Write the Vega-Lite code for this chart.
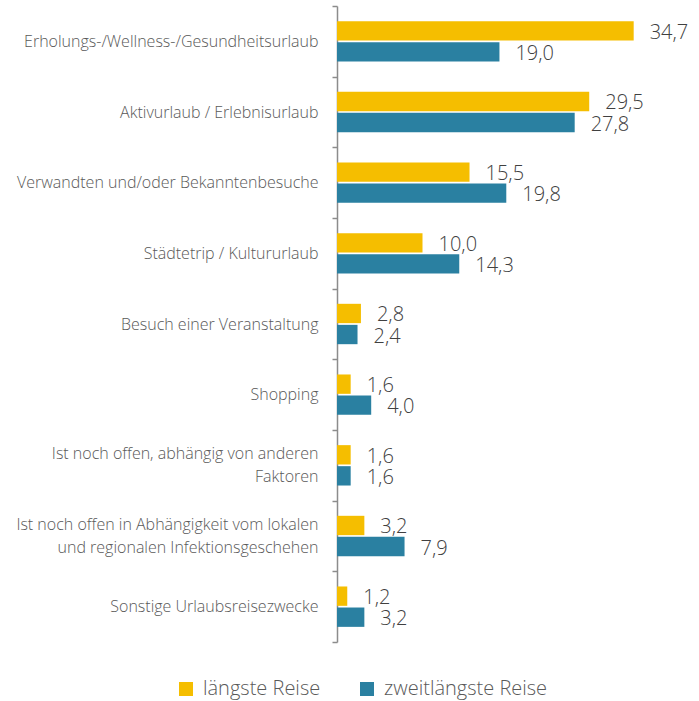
{
  "$schema": "https://vega.github.io/schema/vega-lite/v6.json",
  "width": 342,
  "height": 636,
  "autosize": {"type": "none"},
  "padding": {"left": 337, "top": 6, "right": 20, "bottom": 59},
  "config": {
    "font": "Open Sans",
    "view": {"stroke": null},
    "locale": {"number": {"decimal": ",", "thousands": ".", "grouping": [3], "currency": ["", " €"]}}
  },
  "data": {
    "values": [
      {"zweck": "Erholungs-/Wellness-/Gesundheitsurlaub", "reise": "längste Reise", "wert": 34.7},
      {"zweck": "Erholungs-/Wellness-/Gesundheitsurlaub", "reise": "zweitlängste Reise", "wert": 19.0},
      {"zweck": "Aktivurlaub / Erlebnisurlaub", "reise": "längste Reise", "wert": 29.5},
      {"zweck": "Aktivurlaub / Erlebnisurlaub", "reise": "zweitlängste Reise", "wert": 27.8},
      {"zweck": "Verwandten und/oder Bekanntenbesuche", "reise": "längste Reise", "wert": 15.5},
      {"zweck": "Verwandten und/oder Bekanntenbesuche", "reise": "zweitlängste Reise", "wert": 19.8},
      {"zweck": "Städtetrip / Kultururlaub", "reise": "längste Reise", "wert": 10.0},
      {"zweck": "Städtetrip / Kultururlaub", "reise": "zweitlängste Reise", "wert": 14.3},
      {"zweck": "Besuch einer Veranstaltung", "reise": "längste Reise", "wert": 2.8},
      {"zweck": "Besuch einer Veranstaltung", "reise": "zweitlängste Reise", "wert": 2.4},
      {"zweck": "Shopping", "reise": "längste Reise", "wert": 1.6},
      {"zweck": "Shopping", "reise": "zweitlängste Reise", "wert": 4.0},
      {"zweck": "Ist noch offen, abhängig von anderen|Faktoren", "reise": "längste Reise", "wert": 1.6},
      {"zweck": "Ist noch offen, abhängig von anderen|Faktoren", "reise": "zweitlängste Reise", "wert": 1.6},
      {"zweck": "Ist noch offen in Abhängigkeit vom lokalen|und regionalen Infektionsgeschehen", "reise": "längste Reise", "wert": 3.2},
      {"zweck": "Ist noch offen in Abhängigkeit vom lokalen|und regionalen Infektionsgeschehen", "reise": "zweitlängste Reise", "wert": 7.9},
      {"zweck": "Sonstige Urlaubsreisezwecke", "reise": "längste Reise", "wert": 1.2},
      {"zweck": "Sonstige Urlaubsreisezwecke", "reise": "zweitlängste Reise", "wert": 3.2}
    ]
  },
  "encoding": {
    "y": {
      "field": "zweck",
      "type": "nominal",
      "sort": null,
      "scale": {"paddingInner": 0, "paddingOuter": 0},
      "axis": {
        "title": null,
        "labelExpr": "split(datum.label, '|')",
        "labelFontSize": 16,
        "labelColor": "#595959",
        "labelFont": "Open Sans",
        "labelFontWeight": 300,
        "labelLineHeight": 23,
        "labelOffset": {"condition": {"test": "indexof(datum.label, '|') >= 0", "value": -12}, "value": 0},
        "labelPadding": 14,
        "labelLimit": 400,
        "tickBand": "extent",
        "tickSize": 5,
        "tickColor": "#8c8c8c",
        "tickWidth": 1.5,
        "domainColor": "#8c8c8c",
        "domainWidth": 1.5,
        "grid": false
      }
    },
    "yOffset": {
      "field": "reise",
      "type": "nominal",
      "sort": ["längste Reise", "zweitlängste Reise"],
      "scale": {"paddingInner": 0.08, "paddingOuter": 0.72}
    },
    "x": {
      "field": "wert",
      "type": "quantitative",
      "scale": {"domain": [0, 40]},
      "axis": null
    }
  },
  "layer": [
    {
      "mark": {"type": "bar"},
      "encoding": {
        "color": {
          "field": "reise",
          "type": "nominal",
          "sort": ["längste Reise", "zweitlängste Reise"],
          "scale": {"domain": ["längste Reise", "zweitlängste Reise"], "range": ["#F5BE00", "#2A80A1"]},
          "legend": {
            "title": null,
            "orient": "none",
            "direction": "horizontal",
            "legendX": -161,
            "legendY": 673,
            "symbolType": "square",
            "symbolSize": 196,
            "symbolStrokeWidth": 0,
            "labelFontSize": 20,
            "labelColor": "#595959",
            "labelFont": "Open Sans",
            "labelFontWeight": 300,
            "labelOffset": 7,
            "columnPadding": 36,
            "labelLimit": 300
          }
        }
      }
    },
    {
      "mark": {"type": "text", "align": "left", "baseline": "middle", "dx": 16, "dy": 2, "fontSize": 20, "fontWeight": 300, "color": "#404040"},
      "encoding": {
        "text": {"field": "wert", "type": "quantitative", "format": ".1f"}
      }
    }
  ]
}
